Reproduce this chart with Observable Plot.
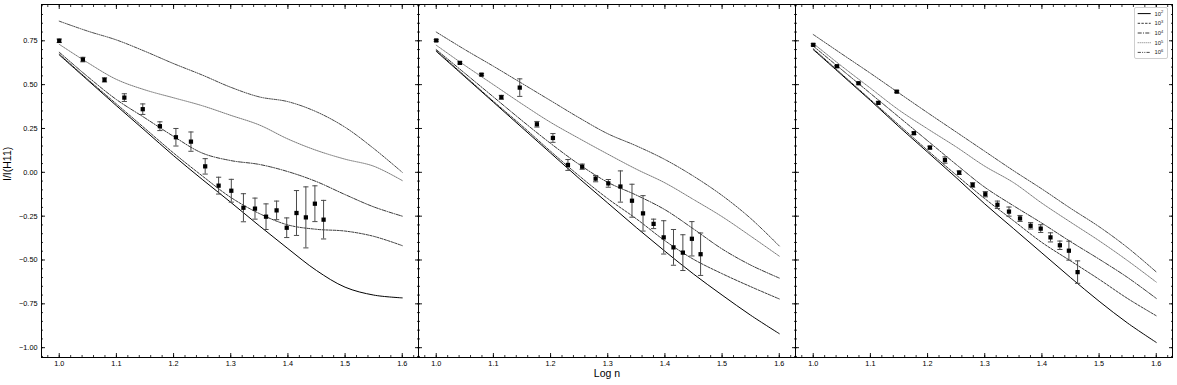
<!DOCTYPE html>
<html><head><meta charset="utf-8">
<script src="https://cdn.jsdelivr.net/npm/d3@7"></script>
<script src="https://cdn.jsdelivr.net/npm/@observablehq/plot@0.6"></script>
<style>
body{margin:0;background:#fff;}
#wrap{position:relative;width:1177px;height:385px;}
#legend{position:absolute;left:1134px;top:7px;width:34px;height:52px;box-sizing:border-box;border:0.8px solid #cfcfcf;border-radius:2px;background:#fff;}
</style></head><body><div id="wrap"><div id="legend"></div></div>
<script>
// ---------- data ----------
const panels = ["p1", "p2", "p3"];
const densities = ["2", "3", "4", "5", "6"]; // log10 of electron density
const modelX = [1.00, 1.05, 1.10, 1.15, 1.20, 1.25, 1.30, 1.35, 1.40, 1.45, 1.50, 1.55, 1.60];

const p1_1e2 = [0.670, 0.525, 0.380, 0.238, 0.095, -0.040, -0.171, -0.305, -0.435, -0.560, -0.655, -0.700, -0.716];
const p1_1e3 = [0.675, 0.530, 0.390, 0.250, 0.110, -0.020, -0.143, -0.235, -0.300, -0.325, -0.335, -0.365, -0.418];
const p1_1e4 = [0.685, 0.545, 0.415, 0.310, 0.205, 0.110, 0.067, 0.045, 0.004, -0.053, -0.127, -0.197, -0.250];
const p1_1e5 = [0.730, 0.625, 0.530, 0.470, 0.425, 0.380, 0.325, 0.270, 0.190, 0.125, 0.075, 0.035, -0.047];
const p1_1e6 = [0.862, 0.805, 0.755, 0.690, 0.620, 0.555, 0.485, 0.430, 0.403, 0.345, 0.257, 0.136, 0.000];

const p2_1e2 = [0.690, 0.545, 0.400, 0.255, 0.110, -0.035, -0.175, -0.315, -0.450, -0.580, -0.700, -0.815, -0.920];
const p2_1e3 = [0.695, 0.550, 0.405, 0.265, 0.120, -0.020, -0.150, -0.265, -0.390, -0.496, -0.578, -0.652, -0.722];
const p2_1e4 = [0.700, 0.565, 0.430, 0.295, 0.165, 0.045, -0.057, -0.130, -0.213, -0.323, -0.437, -0.529, -0.603];
const p2_1e5 = [0.725, 0.610, 0.500, 0.390, 0.285, 0.193, 0.104, 0.018, -0.060, -0.155, -0.253, -0.364, -0.478];
const p2_1e6 = [0.800, 0.700, 0.605, 0.507, 0.409, 0.311, 0.220, 0.151, 0.073, -0.022, -0.132, -0.263, -0.420];

const p3_1e2 = [0.700, 0.555, 0.410, 0.260, 0.115, -0.030, -0.180, -0.320, -0.460, -0.600, -0.735, -0.860, -0.970];
const p3_1e3 = [0.705, 0.560, 0.415, 0.270, 0.125, -0.015, -0.150, -0.275, -0.400, -0.505, -0.610, -0.720, -0.818];
const p3_1e4 = [0.720, 0.585, 0.450, 0.315, 0.180, 0.045, -0.085, -0.190, -0.290, -0.395, -0.495, -0.600, -0.719];
const p3_1e5 = [0.735, 0.605, 0.480, 0.355, 0.248, 0.145, 0.035, -0.058, -0.176, -0.284, -0.390, -0.504, -0.626];
const p3_1e6 = [0.786, 0.675, 0.565, 0.452, 0.340, 0.230, 0.120, 0.010, -0.095, -0.205, -0.310, -0.430, -0.568];

// observed lines n = 10 ... 29, x = log n
const obsX = [1.0000, 1.0414, 1.0792, 1.1139, 1.1461, 1.1761, 1.2041, 1.2304, 1.2553, 1.2788,
              1.3010, 1.3222, 1.3424, 1.3617, 1.3802, 1.3979, 1.4150, 1.4314, 1.4472, 1.4624];
const p1_obs = [0.750, 0.643, 0.527, 0.426, 0.360, 0.263, 0.200, 0.175, 0.034, -0.076,
                -0.105, -0.202, -0.207, -0.253, -0.217, -0.316, -0.232, -0.257, -0.179, -0.270];
const p1_err = [0.010, 0.013, 0.012, 0.022, 0.030, 0.025, 0.050, 0.055, 0.044, 0.048,
                0.065, 0.080, 0.060, 0.073, 0.053, 0.056, 0.128, 0.174, 0.102, 0.110];
const p2_obs = [0.752, 0.624, 0.557, 0.428, 0.483, 0.274, 0.196, 0.042, 0.032, -0.036,
                -0.063, -0.081, -0.162, -0.234, -0.294, -0.371, -0.428, -0.458, -0.379, -0.467];
const p2_err = [0.005, 0.006, 0.006, 0.011, 0.050, 0.016, 0.025, 0.031, 0.015, 0.018,
                0.022, 0.089, 0.094, 0.101, 0.027, 0.095, 0.102, 0.102, 0.098, 0.121];
const p3_obs = [0.727, 0.605, 0.508, 0.396, 0.460, 0.223, 0.141, 0.070, -0.002, -0.072,
                -0.125, -0.185, -0.224, -0.263, -0.305, -0.321, -0.371, -0.416, -0.447, -0.569];
const p3_err = [0.006, 0.004, 0.005, 0.006, 0.005, 0.007, 0.008, 0.018, 0.010, 0.013,
                0.015, 0.021, 0.026, 0.017, 0.018, 0.022, 0.026, 0.024, 0.054, 0.064];

const xMajor = [1.0, 1.1, 1.2, 1.3, 1.4, 1.5, 1.6];
const xMinor = d3.range(49, 82).map(i => i / 50);          // 0.98 ... 1.62 step 0.02
const yMajor = [-1.0, -0.75, -0.5, -0.25, 0, 0.25, 0.5, 0.75];
const yMinor = d3.range(-21, 20).map(i => i / 20);         // -1.05 ... 0.95 step 0.05

// ---------- styles ----------
const lineStyle = {
  "2": {stroke: "#000", width: 1.0, dash: null},
  "3": {stroke: "#222", width: 0.9, dash: "2.4,1.3"},
  "4": {stroke: "#222", width: 0.9, dash: "4,1.3,1,1.3"},
  "5": {stroke: "#6a6a6a", width: 0.9, dash: "1,1"},
  "6": {stroke: "#333", width: 0.9, dash: "3.2,1.2,1,1.2,1,1.2"}
};

// ---------- tables ----------
const modelSets = {
  p1: [p1_1e2, p1_1e3, p1_1e4, p1_1e5, p1_1e6],
  p2: [p2_1e2, p2_1e3, p2_1e4, p2_1e5, p2_1e6],
  p3: [p3_1e2, p3_1e3, p3_1e4, p3_1e5, p3_1e6]
};
const obsSets = {p1: [p1_obs, p1_err], p2: [p2_obs, p2_err], p3: [p3_obs, p3_err]};

const modelRows = [];
for (const p of panels) modelSets[p].forEach((arr, k) =>
  arr.forEach((v, i) => modelRows.push({panel: p, dens: densities[k], x: modelX[i], y: v})));
const obsRows = [];
for (const p of panels) obsSets[p][0].forEach((v, i) =>
  obsRows.push({panel: p, x: obsX[i], y: v, lo: v - obsSets[p][1][i], hi: v + obsSets[p][1][i]}));

const capSymbol = {draw(ctx, size) { const r = Math.sqrt(size / Math.PI); ctx.moveTo(-r, 0); ctx.lineTo(r, 0); }};

const tickMarks = [];
for (const anchor of ["bottom", "top"]) {
  tickMarks.push(Plot.axisX(xMajor, {anchor, tickSize: -4, fill: "none", label: null, stroke: "black", strokeWidth: 0.9}));
  tickMarks.push(Plot.axisX(xMinor, {anchor, tickSize: -2, fill: "none", label: null, stroke: "black", strokeWidth: 0.8}));
}
for (const anchor of ["left", "right"]) {
  tickMarks.push(Plot.axisY(yMajor, {anchor, tickSize: -4, fill: "none", label: null, facetAnchor: null, stroke: "black", strokeWidth: 0.9}));
  tickMarks.push(Plot.axisY(yMinor, {anchor, tickSize: -2, fill: "none", label: null, facetAnchor: null, stroke: "black", strokeWidth: 0.8}));
}

const chart = Plot.plot({
  width: 1177,
  height: 385,
  marginLeft: 41,
  marginRight: 5,
  marginTop: 4,
  marginBottom: 28,
  style: {fontFamily: "'Liberation Sans', Arial, sans-serif", fontSize: "7.3px", color: "black", background: "white", overflow: "visible"},
  fx: {domain: panels, padding: 0, axis: null, label: null},
  x: {domain: [0.969, 1.6284], label: null},
  y: {domain: [-1.056, 0.957], label: null},
  marks: [
    ...densities.map(d => Plot.line(modelRows.filter(r => r.dens === d), {
      fx: "panel", x: "x", y: "y", curve: "catmull-rom",
      stroke: lineStyle[d].stroke, strokeWidth: lineStyle[d].width, strokeDasharray: lineStyle[d].dash
    })),
    Plot.ruleX(obsRows, {fx: "panel", x: "x", y1: "lo", y2: "hi", stroke: "#4a4a4a", strokeWidth: 1}),
    Plot.dot(obsRows, {fx: "panel", x: "x", y: "lo", symbol: capSymbol, r: 2.6, stroke: "#4a4a4a", fill: "none", strokeWidth: 1}),
    Plot.dot(obsRows, {fx: "panel", x: "x", y: "hi", symbol: capSymbol, r: 2.6, stroke: "#4a4a4a", fill: "none", strokeWidth: 1}),
    Plot.dot(obsRows, {fx: "panel", x: "x", y: "y", symbol: "square", r: 2.4, fill: "black", stroke: "none"}),
    Plot.frame({stroke: "black", strokeWidth: 1}),
    ...tickMarks,
    Plot.axisX(xMajor, {anchor: "bottom", tickSize: 0, tickPadding: 3, tickFormat: d3.format(".1f"), label: null}),
    Plot.axisY(yMajor, {anchor: "left", tickSize: 0, tickPadding: 4, tickFormat: d3.format(".2f"), label: null}),
    Plot.text(["Log n"], {fx: ["p2"], text: d => d, frameAnchor: "bottom", dy: 19.5, fontSize: 10.5}),
    Plot.text(["I/I(H11)"], {fx: ["p1"], text: d => d, frameAnchor: "left", dx: -34, rotate: -90, fontSize: 10.5})
  ]
});
document.getElementById("wrap").prepend(chart);

// ---------- legend (top right of third panel) ----------
const lg = d3.select("#legend").append("svg").attr("width", 34).attr("height", 52)
  .style("position", "absolute").style("left", "-0.8px").style("top", "-0.8px");
densities.forEach((d, i) => {
  const yy = 6.6 + i * 9.7;
  const s = lineStyle[d];
  lg.append("line").attr("x1", 3.7).attr("x2", 16.7).attr("y1", yy).attr("y2", yy)
    .attr("stroke", s.stroke).attr("stroke-width", s.width).attr("stroke-dasharray", s.dash);
  const t = lg.append("text").attr("x", 20.5).attr("y", yy + 2)
    .attr("font-family", "'Liberation Sans', Arial, sans-serif").attr("font-size", 5.8).attr("fill", "#222");
  t.append("tspan").text("10");
  t.append("tspan").attr("dy", -2.2).attr("font-size", 4).text(d);
});
</script></body></html>
